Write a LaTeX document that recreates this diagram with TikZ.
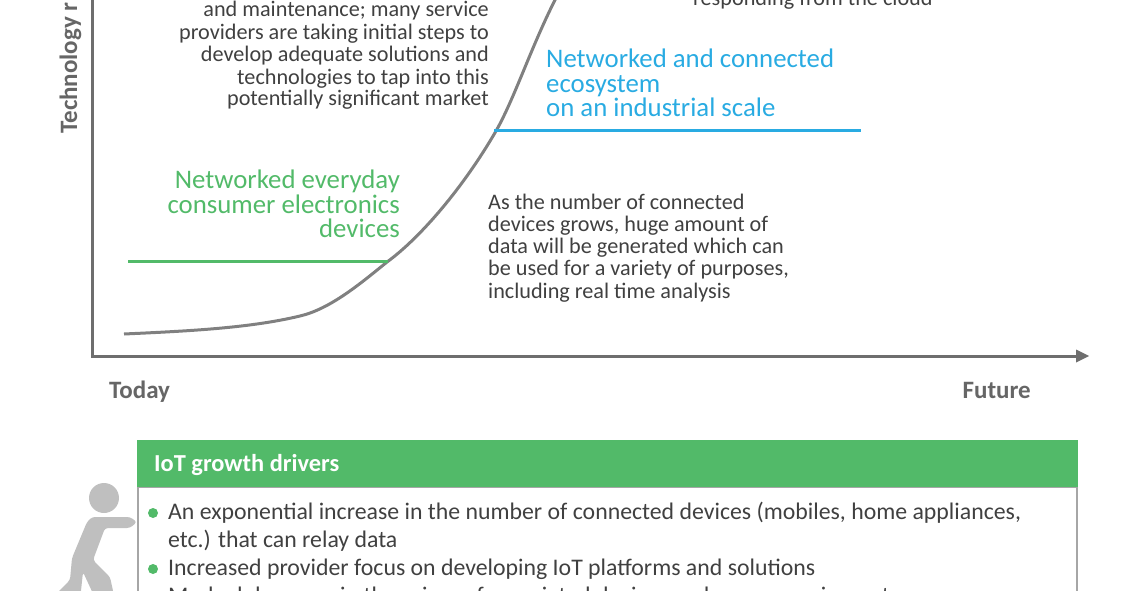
\documentclass[tikz,border=0pt]{standalone}
\usepackage{fontspec}
\setmainfont{Carlito}
\definecolor{txt}{HTML}{404040}
\definecolor{axis}{HTML}{6E6E6E}
\definecolor{curve}{HTML}{808080}
\definecolor{lab}{HTML}{666666}
\definecolor{grn}{HTML}{52BA69}
\definecolor{blu}{HTML}{29ABE2}
\definecolor{man}{HTML}{BFBFBF}
\definecolor{frame}{HTML}{A6A6A6}
\tikzset{
 body/.style={font=\fontsize{22.2}{22}\selectfont,text=txt,inner sep=0pt},
 listtext/.style={font=\fontsize{23.8}{24}\selectfont,text=txt,inner sep=0pt},
 head/.style={font=\fontsize{26.8}{25}\selectfont,inner sep=0pt},
 bold/.style={font=\fontsize{25}{23}\selectfont\bfseries,inner sep=0pt},
 boldhead/.style={font=\fontsize{24.4}{23}\selectfont\bfseries,inner sep=0pt}
}
\begin{document}
\begin{tikzpicture}[x=1pt,y=-1pt]
\useasboundingbox (0,0) rectangle (1130,591);
\clip (0,0) rectangle (1130,591);
% axes
\coordinate (origin) at (92,356);
\coordinate (ytop) at (92,-5);
\coordinate (xend) at (1089,356);
\draw[axis,line width=3pt] (ytop) -- (origin) -- (1078,356);
\fill[axis] (xend) -- (1076,349.5) -- (1076,362.5) -- cycle;
% curve
\draw[curve,line width=3pt] (124,334) .. controls (190,331) and (250,328) .. (300,316)
 .. controls (330,309) and (360,284) .. (387,262)
 .. controls (420,238) and (463,188) .. (496,131)
 .. controls (516,96) and (535,35) .. (563,-15);
% green
\draw[grn,line width=3pt] (128,261) -- (388,261);
\node[head,text=grn,anchor=base east] at (400,188) {Networked everyday};
\node[head,text=grn,anchor=base east] at (400,213) {consumer electronics};
\node[head,text=grn,anchor=base east] at (400,237) {devices};
% blue
\draw[blu,line width=3pt] (494,131) -- (861,131);
\node[head,text=blu,anchor=base west] at (546,68) {Networked and connected};
\node[head,text=blu,anchor=base west] at (546,93) {ecosystem};
\node[head,text=blu,anchor=base west] at (546,117) {on an industrial scale};
% texts
\node[body,anchor=base east] at (489,17) {and maintenance; many service};
\node[body,anchor=base east] at (489,40) {providers are taking initial steps to};
\node[body,anchor=base east] at (489,62) {develop adequate solutions and};
\node[body,anchor=base east] at (489,85) {technologies to tap into this};
\node[body,anchor=base east] at (489,106) {potentially significant market};
\node[body,anchor=base west] at (693,6) {responding from the cloud};
\node[body,anchor=base west] at (488,209) {As the number of connected};
\node[body,anchor=base west] at (488,231) {devices grows, huge amount of};
\node[body,anchor=base west] at (488,253) {data will be generated which can};
\node[body,anchor=base west] at (488,275) {be used for a variety of purposes,};
\node[body,anchor=base west] at (488,298) {including real time analysis};
\node[bold,text=lab,rotate=90,anchor=base west] at (77,134) {Technology r};
\node[bold,text=lab,anchor=base west] at (109,398) {Today};
\node[bold,text=lab,anchor=base east] at (1031,398) {Future};
% box
\draw[frame,line width=2pt] (138,600) -- (138,487) -- (1077,487) -- (1077,600);
\fill[grn] (137,440) rectangle (1078,487);
\node[boldhead,text=white,anchor=base west] at (154,471) {IoT growth drivers};
\fill[grn] (153,513) circle (5);
\fill[grn] (153,569) circle (5);
\node[listtext,anchor=base west] at (168,519) {An exponential increase in the number of connected devices (mobiles, home appliances,};
\node[listtext,anchor=base west] at (168,547) {etc.) that can relay data};
\node[listtext,anchor=base west] at (168,575) {Increased provider focus on developing IoT platforms and solutions};
\node[listtext,anchor=base west] at (168,603) {Marked decrease in the prices of associated devices and sensor equipment};
% man
\fill[man] (104,498) circle (15);
\fill[man,rounded corners=3pt] (130,517) -- (137,522) -- (130,528) -- (105,528) -- (93,560) -- (110,577) -- (115,600) -- (96,600) -- (83,572) -- (80,600) -- (50,600) -- (70,580) -- (72,558) -- (87,522) -- (92,517) -- cycle;
\end{tikzpicture}
\end{document}
